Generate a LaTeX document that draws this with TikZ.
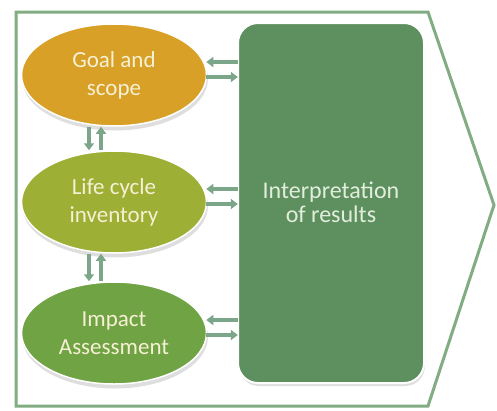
\documentclass[tikz,border=0pt]{standalone}
\usepackage{fontspec}
\setmainfont{Carlito}
\usetikzlibrary{arrows.meta,shapes.geometric,calc}
\definecolor{goldc}{HTML}{D8A026}
\definecolor{olivec}{HTML}{9DAF35}
\definecolor{greenc}{HTML}{70A343}
\definecolor{boxc}{HTML}{5E8F5E}
\definecolor{framec}{HTML}{82AD82}
\definecolor{arrowc}{HTML}{7CA68A}
\definecolor{etext}{HTML}{F6F0D4}
\definecolor{btext}{HTML}{E2EEDD}
\tikzset{
  stage/.style={ellipse, minimum width=185pt, minimum height=102pt, inner sep=0pt,
    draw=white, line width=1.5pt, text=etext, align=center,
    font=\fontsize{23}{28}\selectfont},
  shade/.style={fill=black!45, opacity=0.28, draw=none},
  link/.style={draw=arrowc, line width=4pt,
    -{Triangle[width=10pt,length=7pt]}},
  frameline/.style={draw=framec, line width=3pt, line join=miter}
}
\begin{document}
\begin{tikzpicture}[x=1pt,y=-1pt]
\useasboundingbox (0,0) rectangle (497,410);
\fill[white] (0,0) rectangle (497,410);
% outer frame
\draw[frameline] (16,12) -- (428,12) -- (494,205) -- (428,406) -- (16,406) -- cycle;
% shadows
\fill[shade] (115,78.5) ellipse [x radius=93pt, y radius=52pt];
\fill[shade] (115,205.5) ellipse [x radius=93pt, y radius=52pt];
\fill[shade] (115,336.5) ellipse [x radius=93pt, y radius=52pt];
\fill[shade, rounded corners=20pt] (239,26) rectangle (425,386);
% stages
\node[stage, fill=goldc] (g1) at (114,75) {Goal and\\scope};
\node[stage, fill=olivec] (g2) at (114,202) {Life cycle\\inventory};
\node[stage, fill=greenc] (g3) at (114,333) {Impact\\Assessment};
% interpretation box
\path[fill=boxc, draw=white, line width=2pt, rounded corners=20pt] (238,23) rectangle (424,383);
\node[text=btext, align=center, font=\fontsize{24}{24}\selectfont] (box) at (331,202)
  [minimum width=186pt, minimum height=360pt] {Interpretation\\of results};
% vertical arrows
\draw[link] ([xshift=-25pt]g1.south) -- ([xshift=-25pt]g2.north);
\draw[link] ([xshift=-13pt]g2.north) -- ([xshift=-13pt]g1.south);
\draw[link] ([xshift=-25pt]g2.south) -- ([xshift=-25pt]g3.north);
\draw[link] ([xshift=-13pt]g3.north) -- ([xshift=-13pt]g2.south);
% horizontal arrows
\foreach \g in {g1,g2,g3}{
  \draw[link] ([yshift=13pt]\g.east -| box.west) -- ([yshift=13pt,xshift=-1pt]\g.east);
  \draw[link] ([yshift=-2pt,xshift=-1pt]\g.east) -- ([yshift=-2pt]\g.east -| box.west);
}
\end{tikzpicture}
\end{document}
